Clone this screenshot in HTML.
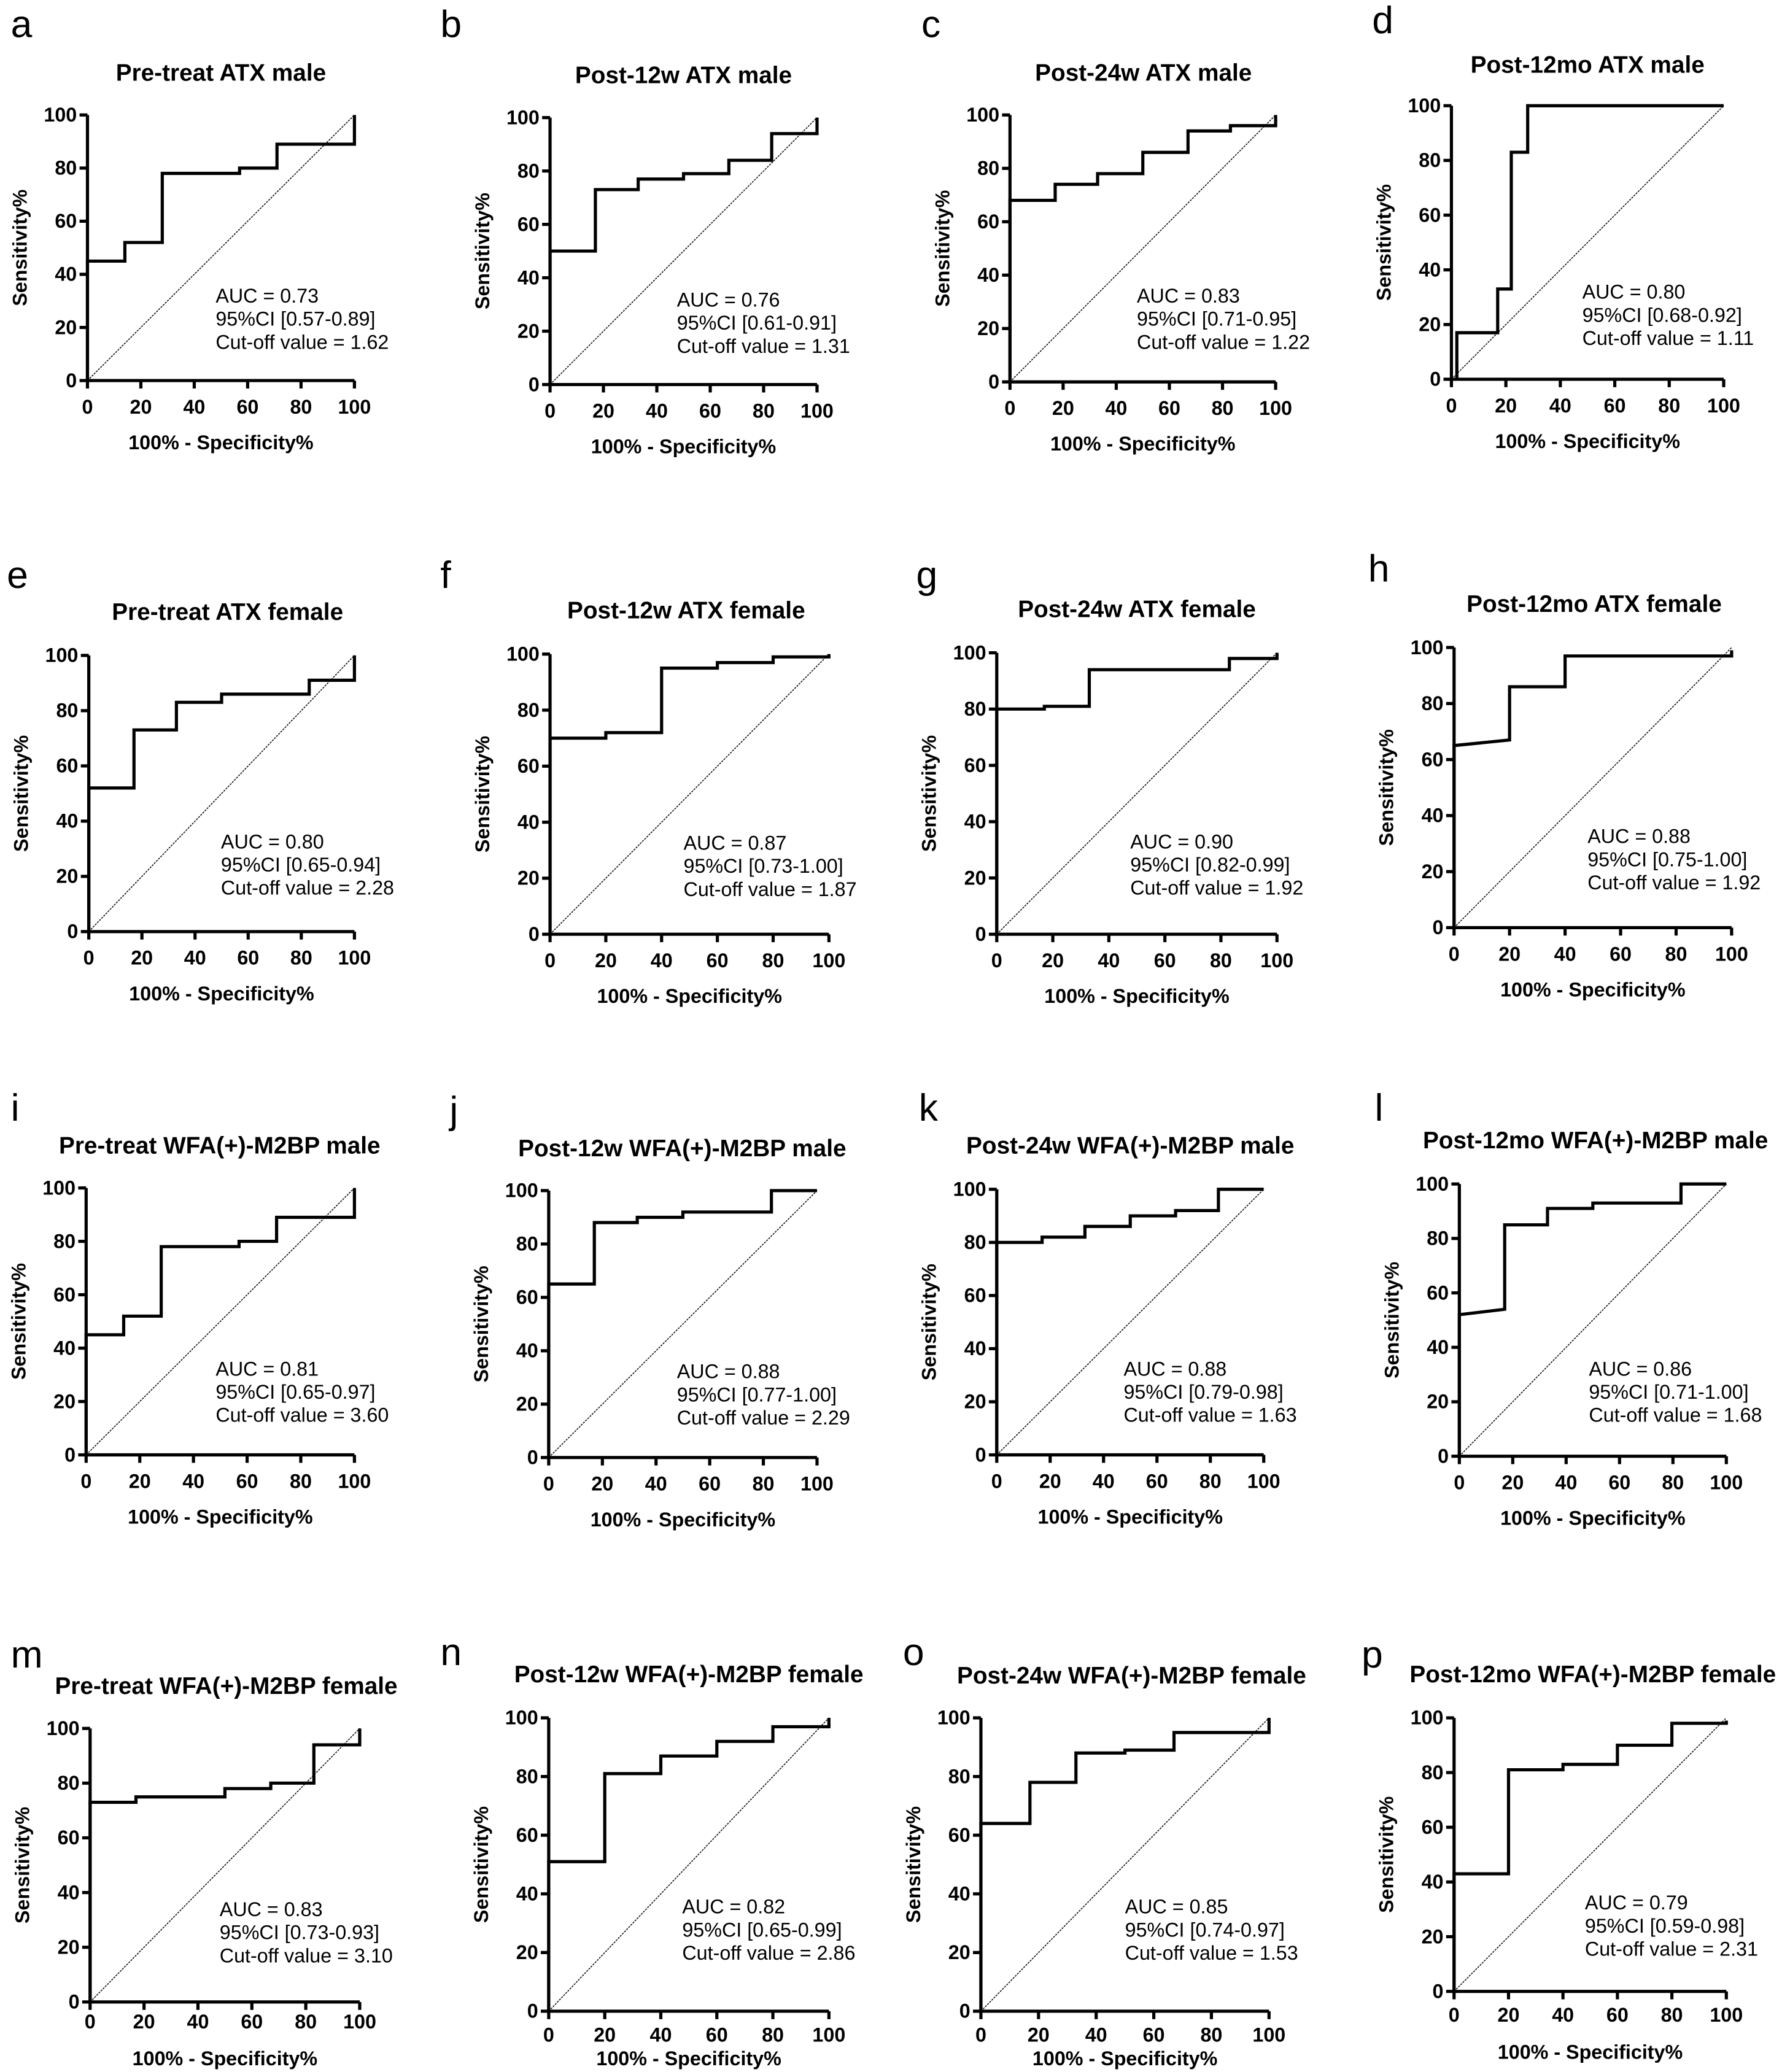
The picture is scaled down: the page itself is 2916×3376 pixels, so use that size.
<!DOCTYPE html>
<html><head><meta charset="utf-8"><style>
html,body{margin:0;padding:0;background:#fff;}
svg{display:block;}
text{font-family:"Liberation Sans",Arial,sans-serif;fill:#000;}
</style></head><body>
<svg id="fig" width="2916" height="3376" viewBox="0 0 1354 1568" xmlns="http://www.w3.org/2000/svg"></svg>
<script>
const panelLetters=["a","b","c","d","e","f","g","h","i","j","k","l","m","n","o","p"];
const panelTitles=["Pre-treat ATX male","Post-12w ATX male","Post-24w ATX male","Post-12mo ATX male",
"Pre-treat ATX female","Post-12w ATX female","Post-24w ATX female","Post-12mo ATX female",
"Pre-treat WFA(+)-M2BP male","Post-12w WFA(+)-M2BP male","Post-24w WFA(+)-M2BP male","Post-12mo WFA(+)-M2BP male",
"Pre-treat WFA(+)-M2BP female","Post-12w WFA(+)-M2BP female","Post-24w WFA(+)-M2BP female","Post-12mo WFA(+)-M2BP female"];
const aucValues=["0.73","0.76","0.83","0.80","0.80","0.87","0.90","0.88","0.81","0.88","0.88","0.86","0.83","0.82","0.85","0.79"];
const ciValues=["0.57-0.89","0.61-0.91","0.71-0.95","0.68-0.92","0.65-0.94","0.73-1.00","0.82-0.99","0.75-1.00","0.65-0.97","0.77-1.00","0.79-0.98","0.71-1.00","0.73-0.93","0.65-0.99","0.74-0.97","0.59-0.98"];
const cutoffValues=["1.62","1.31","1.22","1.11","2.28","1.87","1.92","1.92","3.60","2.29","1.63","1.68","3.10","2.86","1.53","2.31"];
const tickValues=[0,20,40,60,80,100];
const rocX=[
[0,0,14,14,28,28,57,57,71,71,100,100],
[0,0,17,17,33,33,50,50,67,67,83,83,100,100],
[0,0,17,17,33,33,50,50,67,67,83,83,100,100],
[2,2,17,17,22,22,28,28,100],
[0,0,17,17,33,33,50,50,83,83,100,100],
[0,0,20,20,40,40,60,60,80,80,100,100],
[0,0,17,17,33,33,83,83,100,100],
[0,0,20,20,40,40,100,100],
[0,0,14,14,28,28,57,57,71,71,100,100],
[0,0,17,17,33,33,50,50,83,83,100],
[0,0,17,17,33,33,50,50,67,67,83,83,100],
[0,0,17,17,33,33,50,50,83,83,100],
[0,0,17,17,50,50,67,67,83,83,100,100],
[0,0,20,20,40,40,60,60,80,80,100,100],
[0,0,17,17,33,33,50,50,67,67,100,100],
[0,0,20,20,40,40,60,60,80,80,100,100]];
const rocY=[
[0,45,45,52,52,78,78,80,80,89,89,100],
[0,50,50,73,73,77,77,79,79,84,84,94,94,100],
[0,68,68,74,74,78,78,86,86,94,94,96,96,100],
[0,17,17,33,33,83,83,100,100],
[0,52,52,73,73,83,83,86,86,91,91,100],
[0,70,70,72,72,95,95,97,97,99,99,100],
[0,80,80,81,81,94,94,98,98,100],
[0,65,67,86,86,97,97,99],
[0,45,45,52,52,78,78,80,80,89,89,100],
[0,65,65,88,88,90,90,92,92,100,100],
[0,80,80,82,82,86,86,90,90,92,92,100,100],
[0,52,54,85,85,91,91,93,93,100,100],
[0,73,73,75,75,78,78,80,80,94,94,100],
[0,51,51,81,81,87,87,92,92,97,97,100],
[0,64,64,78,78,88,88,89,89,95,95,100],
[0,43,43,81,81,83,83,90,90,98,98,99]];
// layout (positions, not data)
const L=[
{x0:66,x1:268,y0:288,y1:87,tx:167,ty:61,lx:8,ly:28,ax:163,ay:229},
{x0:416,x1:618,y0:291,y1:89,tx:517,ty:63,lx:333,ly:28,ax:512,ay:232},
{x0:764,x1:965,y0:289,y1:87,tx:865,ty:61,lx:697,ly:28,ax:860,ay:229},
{x0:1098,x1:1304,y0:287,y1:80,tx:1201,ty:55,lx:1038,ly:25,ax:1197,ay:226},
{x0:67,x1:268,y0:705,y1:496,tx:172,ty:469,lx:5,ly:445,ax:167,ay:642},
{x0:416,x1:627,y0:707,y1:495,tx:519,ty:468,lx:333,ly:445,ax:517,ay:643},
{x0:754,x1:966,y0:707,y1:494,tx:860,ty:467,lx:693,ly:445,ax:855,ay:642},
{x0:1100,x1:1310,y0:702,y1:490,tx:1206,ty:463,lx:1035,ly:440,ax:1201,ay:638},
{x0:65,x1:268,y0:1101,y1:899,tx:166,ty:873,lx:8,ly:848,ax:163,ay:1041},
{x0:415,x1:618,y0:1103,y1:901,tx:516,ty:875,lx:340,ly:850,ax:512,ay:1043},
{x0:754,x1:956,y0:1101,y1:900,tx:855,ty:873,lx:695,ly:848,ax:850,ay:1041},
{x0:1104,x1:1306,y0:1102,y1:896,tx:1207,ty:869,lx:1040,ly:848,ax:1202,ay:1041},
{x0:68,x1:272,y0:1515,y1:1308,tx:171,ty:1282,lx:8,ly:1262,ax:166,ay:1450,xl:1535,xt:1563},
{x0:415,x1:627,y0:1522,y1:1300,tx:521,ty:1273,lx:333,ly:1260,ax:516,ay:1448,xl:1545,xt:1563},
{x0:742,x1:960,y0:1522,y1:1300,tx:856,ty:1274,lx:683,ly:1260,ax:851,ay:1448,xl:1545,xt:1563},
{x0:1100,x1:1306,y0:1507,y1:1300,tx:1205,ty:1273,lx:1030,ly:1262,ax:1199,ay:1445,xl:1530,xt:1558}];
const NS="http://www.w3.org/2000/svg";
const svg=document.getElementById('fig');
function mk(tag,attrs,parent,txt){const e=document.createElementNS(NS,tag);for(const k in attrs)e.setAttribute(k,attrs[k]);if(txt!==undefined)e.textContent=txt;parent.appendChild(e);return e;}
panelLetters.forEach((letter,i)=>{
  const p=L[i];
  const sx=v=>p.x0+(p.x1-p.x0)*v/100;
  const sy=v=>p.y0+(p.y1-p.y0)*v/100;
  const g=mk('g',{},svg);
  
  
  const lt=mk('text',{x:p.lx,y:p.ly,'font-size':29},g,letter);
  
  
  const tt=mk('text',{x:p.tx,y:p.ty,'font-size':18,'font-weight':'bold','text-anchor':'middle'},g,panelTitles[i]);
  
  
  const dg=mk('line',{x1:sx(0),y1:sy(0),x2:sx(100),y2:sy(100),stroke:'#000','stroke-width':0.7,'stroke-dasharray':'1.5,0.8'},g);
  
  
  const ax=mk('path',{d:`M${sx(0)},${sy(100)}V${sy(0)}H${sx(100)}`,fill:'none',stroke:'#000','stroke-width':2.4},g);
  
  
  const xlY=p.xl||(sy(0)+25), xtY=p.xt||(sy(0)+52);
  tickValues.forEach(t=>{
    mk('line',{x1:sx(0)-6,y1:sy(t),x2:sx(0),y2:sy(t),stroke:'#000','stroke-width':2.4},g);
    mk('line',{x1:sx(t),y1:sy(0),x2:sx(t),y2:sy(0)+6,stroke:'#000','stroke-width':2.4},g);
    const yl=mk('text',{x:sx(0)-8,y:sy(t)+5,'font-size':15,'font-weight':'bold','text-anchor':'end'},g,t);
    
    
    const xl=mk('text',{x:sx(t),y:xlY,'font-size':15,'font-weight':'bold','text-anchor':'middle'},g,t);
    
    
  });
  const xt=mk('text',{x:(sx(0)+sx(100))/2,y:xtY,'font-size':15,'font-weight':'bold','text-anchor':'middle'},g,'100% - Specificity%');
  
  
  const yc=(sy(0)+sy(100))/2, yx=sx(0)-46;
  const yt=mk('text',{x:yx,y:yc,'font-size':15,'font-weight':'bold','text-anchor':'middle',transform:`rotate(-90 ${yx} ${yc})`},g,'Sensitivity%');
  
  
  const xs=rocX[i], ys=rocY[i];
  let d='';xs.forEach((v,k)=>{d+=(k?'L':'M')+sx(v).toFixed(1)+','+sy(ys[k]).toFixed(1);});
  const c=mk('path',{d:d,fill:'none',stroke:'#000','stroke-width':2.4},g);
  
  
  const lines=['AUC = '+aucValues[i],'95%CI ['+ciValues[i]+']','Cut-off value = '+cutoffValues[i]];
  lines.forEach((s,k)=>{
    const a=mk('text',{x:p.ax,y:p.ay+k*17.5,'font-size':15},g,s);
    
    
  });
});
</script>
</body></html>
